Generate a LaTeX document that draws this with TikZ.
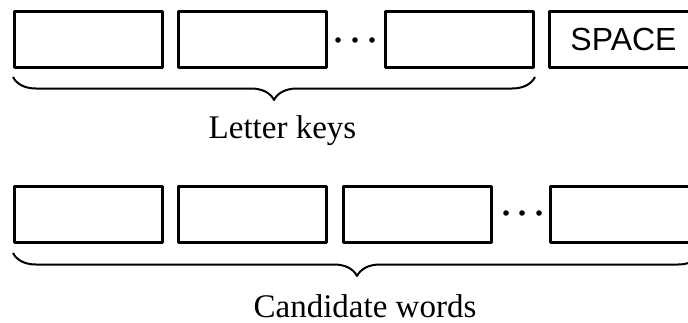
\documentclass[tikz,border=0pt]{standalone}
\usepackage{fontspec}
\setmainfont{Liberation Serif}
\newfontfamily\keyfont{Liberation Sans}
\usetikzlibrary{decorations.pathreplacing}
\tikzset{
	keybox/.style={draw, line width=1.5pt, minimum width=74pt, minimum height=28pt, inner sep=0pt},
	curly/.style={decorate, decoration={brace, mirror, amplitude=11.5pt}, line width=1pt},
}
\begin{document}
\begin{tikzpicture}[x=0.5pt, y=0.5pt, font=\fontsize{16.5}{19}\selectfont, line join=round]
			\def\ytop{282.5} \def\ybot{107.5}
			\clip (0,0) rectangle (688,322);
			% letter keys
			\node[keybox] (k1) at (88.5,\ytop) {};
			\node[keybox] (k2) at (252.5,\ytop) {};
			\node[keybox] (kn) at (459,\ytop) {};
			\node[keybox, font=\keyfont\fontsize{16}{19}\selectfont] (space) at (623.5,\ytop) {SPACE};
			\foreach \x in {338,355,372}
			\fill (\x,282) circle (2.8);
			\coordinate (lkA) at (13,245);
			\coordinate (lkB) at (535,245);
			\draw[curly] (lkA)--(lkB);
			\node[anchor=base] (letters) at (282.5,184) {Letter keys};
			% candidate words
			\node[keybox] (w1) at (88.5,\ybot) {};
			\node[keybox] (w2) at (252.5,\ybot) {};
			\node[keybox] (w3) at (417,\ybot) {};
			\node[keybox] (wn) at (624.5,\ybot) {};
			\foreach \x in {506,522,539}
			\fill (\x,109) circle (2.8);
			\coordinate (cwA) at (13,69);
			\coordinate (cwB) at (701,69);
			\draw[curly] (cwA)--(cwB);
			\node[anchor=base] (words) at (365,5) {Candidate words};
	\end{tikzpicture}
\end{document}
